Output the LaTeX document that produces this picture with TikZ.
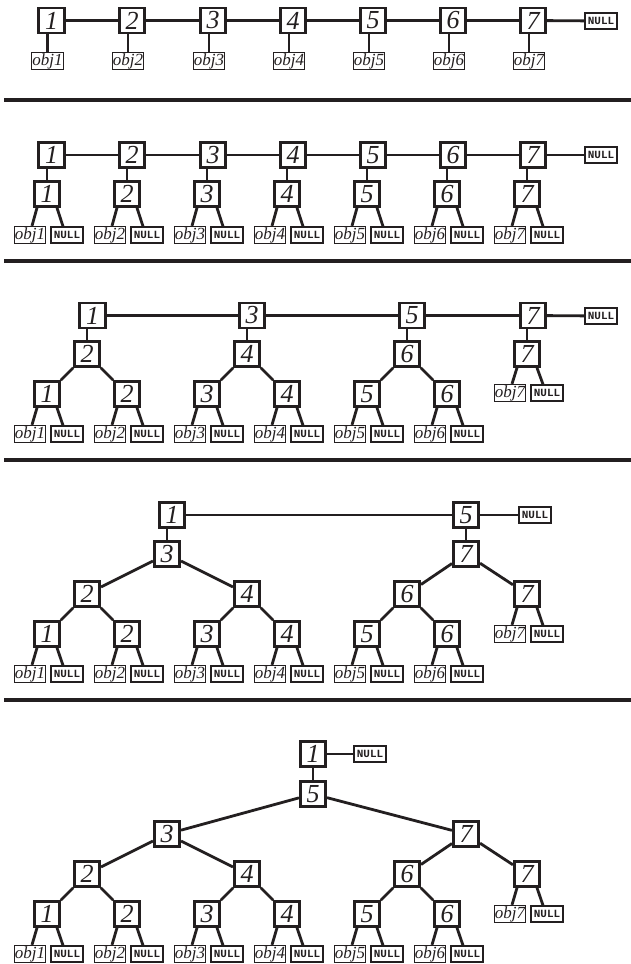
\documentclass[tikz,border=0pt]{standalone}
\usepackage{fontspec}
\setmainfont{Liberation Serif}
\newfontfamily\monofam{Liberation Mono}
\definecolor{ink}{HTML}{231F20}
\newcommand\mynumfont{\fontsize{26pt}{26pt}\selectfont\itshape}
\newcommand\myobjfont{\fontsize{17pt}{17pt}\selectfont\itshape}
\newcommand\mynullfont{\monofam\bfseries\fontsize{11pt}{11pt}\selectfont}
\tikzset{
  num/.style={draw=ink, line width=2.6pt, minimum width=25.5pt, minimum height=25pt, inner sep=0pt, font=\mynumfont, text=ink, fill=white},
  objb/.style={draw=ink, line width=1.3pt, minimum width=31.5pt, minimum height=17pt, inner sep=0pt, font=\myobjfont, text=ink, fill=white},
  nullb/.style={draw=ink, line width=1.3pt, minimum width=32pt, minimum height=16pt, inner sep=0pt, font=\mynullfont, text=ink, fill=white},
  conn/.style={draw=ink, line width=2.8pt},
  sepline/.style={draw=ink, line width=3.8pt}
}
\newcommand\leafpair[4]{%
  \node[objb] (#1-o) at (#2-17,#3) {obj#4};
  \node[nullb] (#1-n) at (#2+20,#3) {NULL};
  \draw[conn] ([xshift=-10pt]#1.south) -- ([xshift=2pt]#1-o.north);
  \draw[conn] ([xshift=10pt]#1.south) -- ([xshift=-4pt]#1-n.north);
}
\begin{document}
\begin{tikzpicture}[x=1pt,y=-1pt]
\useasboundingbox[fill=white] (0,0) rectangle (631,964);

% separators
\draw[sepline] (4,100) -- (631,100);
\draw[sepline] (4,261) -- (631,261);
\draw[sepline] (4,460) -- (631,460);
\draw[sepline] (4,700) -- (631,700);

% ---------- Panel 1 ----------
\foreach \i/\x in {1/51.5,2/132,3/213,4/293,5/373,6/453,7/533} {
  \node[num] (a\i) at (\x,20.5) {\i};
  \node[objb] (ao\i) at (\x-4,61) {obj\i};
  \draw[conn] (ao\i.north) -- (ao\i.north |- a\i.south);
}
\node[nullb] (anull) at (601,21) {NULL};
\draw[conn] (a1) -- (a2) -- (a3) -- (a4) -- (a5) -- (a6) -- (a7) -- (anull);

% ---------- Panel 2 ----------
\foreach \i/\x/\m in {1/51.5/47,2/132/127,3/213/207,4/293/287,5/373/367,6/453/447,7/533/527} {
  \node[num] (b\i) at (\x,155) {\i};
  \node[num] (bm\i) at (\m,194) {\i};
  \draw[conn] (bm\i.north) -- (bm\i.north |- b\i.south);
  \leafpair{bm\i}{\m}{235}{\i}
}
\node[nullb] (bnull) at (601,155) {NULL};
\draw[conn] (b1) -- (b2) -- (b3) -- (b4) -- (b5) -- (b6) -- (b7) -- (bnull);

% ---------- Panel 3 ----------
\foreach \i/\x in {1/92.5,3/252,5/412,7/533} {
  \node[num] (c\i) at (\x,315.5) {\i};
}
\node[nullb] (cnull) at (601,316) {NULL};
\draw[conn] (c1) -- (c3) -- (c5) -- (c7) -- (cnull);
\foreach \i/\t/\m in {2/1/87,4/3/247,6/5/407,7/7/527} {
  \node[num] (cm\i) at (\m,354) {\i};
  \draw[conn] (cm\i.north) -- (cm\i.north |- c\t.south);
}
\foreach \i/\x in {1/47,2/127,3/207,4/287,5/367,6/447} {
  \node[num] (cl\i) at (\x,394) {\i};
  \leafpair{cl\i}{\x}{434}{\i}
}
\draw[conn] (cm2) -- (cl1);
\draw[conn] (cm2) -- (cl2);
\draw[conn] (cm4) -- (cl3);
\draw[conn] (cm4) -- (cl4);
\draw[conn] (cm6) -- (cl5);
\draw[conn] (cm6) -- (cl6);
\leafpair{cm7}{527}{393}{7}

% ---------- Panel 4 ----------
\node[num] (d1) at (172,515) {1};
\node[num] (d5) at (466,515) {5};
\node[nullb] (dnull) at (535,515) {NULL};
\draw[conn] (d1) -- (d5) -- (dnull);
\node[num] (d3) at (167,554) {3};
\node[num] (d7) at (466,554) {7};
\draw[conn] (d3.north) -- (d3.north |- d1.south);
\draw[conn] (d7) -- (d5);
\foreach \i/\x in {2/87,4/247,6/407,7/527} {
  \node[num] (dl\i) at (\x,594) {\i};
}
\draw[conn] (d3) -- (dl2);
\draw[conn] (d3) -- (dl4);
\draw[conn] (d7) -- (dl6);
\draw[conn] (d7) -- (dl7);
\foreach \i/\x in {1/47,2/127,3/207,4/287,5/367,6/447} {
  \node[num] (dk\i) at (\x,634) {\i};
  \leafpair{dk\i}{\x}{674}{\i}
}
\draw[conn] (dl2) -- (dk1);
\draw[conn] (dl2) -- (dk2);
\draw[conn] (dl4) -- (dk3);
\draw[conn] (dl4) -- (dk4);
\draw[conn] (dl6) -- (dk5);
\draw[conn] (dl6) -- (dk6);
\leafpair{dl7}{527}{634}{7}

% ---------- Panel 5 ----------
\node[num] (e1) at (313,754) {1};
\node[nullb] (enull) at (370,754) {NULL};
\node[num] (e5) at (313,794) {5};
\draw[conn] (e1) -- (enull);
\draw[conn] (e1) -- (e5);
\node[num] (e3) at (167,834) {3};
\node[num] (e7) at (466,834) {7};
\draw[conn] (e5) -- (e3);
\draw[conn] (e5) -- (e7);
\foreach \i/\x in {2/87,4/247,6/407,7/527} {
  \node[num] (el\i) at (\x,874) {\i};
}
\draw[conn] (e3) -- (el2);
\draw[conn] (e3) -- (el4);
\draw[conn] (e7) -- (el6);
\draw[conn] (e7) -- (el7);
\foreach \i/\x in {1/47,2/127,3/207,4/287,5/367,6/447} {
  \node[num] (ek\i) at (\x,914) {\i};
  \leafpair{ek\i}{\x}{954}{\i}
}
\draw[conn] (el2) -- (ek1);
\draw[conn] (el2) -- (ek2);
\draw[conn] (el4) -- (ek3);
\draw[conn] (el4) -- (ek4);
\draw[conn] (el6) -- (ek5);
\draw[conn] (el6) -- (ek6);
\leafpair{el7}{527}{914}{7}
\end{tikzpicture}
\end{document}
